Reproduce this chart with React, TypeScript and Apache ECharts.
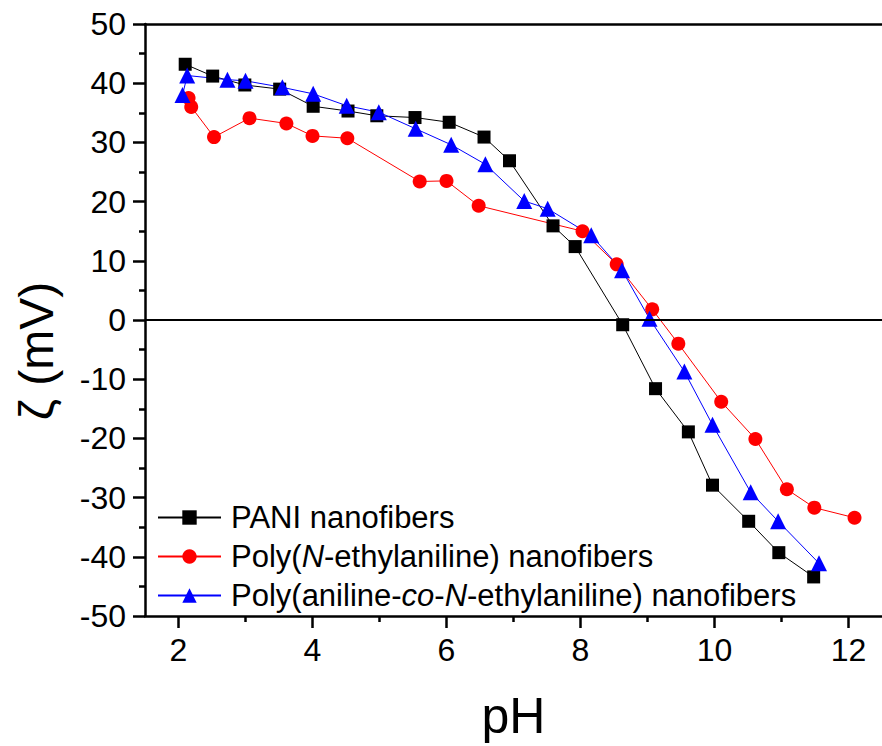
import React, { useEffect, useRef } from "react";
import * as echarts from "echarts";

const FONT = "'Liberation Sans', Arial, Helvetica, sans-serif";

// Series: PANI nanofibers
const phPani = [2.10, 2.51, 2.99, 3.51, 4.01, 4.53, 4.96, 5.53, 6.04, 6.56, 6.94, 7.59, 7.92, 8.63, 9.12, 9.61, 9.97, 10.51, 10.96, 11.48];
const zetaPani = [43.2, 41.2, 39.7, 39.0, 36.1, 35.3, 34.5, 34.2, 33.4, 30.9, 26.9, 15.9, 12.4, -0.8, -11.6, -18.9, -27.9, -34.0, -39.3, -43.4];

// Series: Poly(N-ethylaniline) nanofibers
const phPnea = [2.15, 2.19, 2.53, 3.06, 3.61, 4.0, 4.52, 5.60, 6.0, 6.48, 8.03, 8.54, 9.07, 9.46, 10.10, 10.61, 11.08, 11.49, 12.09];
const zetaPnea = [37.5, 36.0, 30.9, 34.1, 33.2, 31.1, 30.7, 23.4, 23.5, 19.3, 15.0, 9.4, 1.8, -4.0, -13.8, -20.1, -28.6, -31.7, -33.4];

// Series: Poly(aniline-co-N-ethylaniline) nanofibers
const phCo = [2.06, 2.13, 2.73, 3.0, 3.55, 4.01, 4.51, 4.99, 5.54, 6.07, 6.58, 7.16, 7.51, 8.16, 8.62, 9.03, 9.55, 9.97, 10.54, 10.95, 11.56];
const zetaCo = [38.0, 41.3, 40.6, 40.4, 39.3, 38.2, 36.2, 35.1, 32.3, 29.6, 26.3, 20.1, 18.8, 14.3, 8.4, 0.2, -8.7, -17.7, -29.1, -34.0, -41.1];

const seriesNames = [
  "PANI nanofibers",
  "Poly(N-ethylaniline) nanofibers",
  "Poly(aniline-co-N-ethylaniline) nanofibers",
];
const legendRich: Record<string, string> = {
  "PANI nanofibers": "PANI nanofibers",
  "Poly(N-ethylaniline) nanofibers": "Poly({it|N}-ethylaniline) nanofibers",
  "Poly(aniline-co-N-ethylaniline) nanofibers": "Poly(aniline-{it|co}-{it|N}-ethylaniline) nanofibers",
};

const xMajorTicks = [2, 4, 6, 8, 10, 12];
const xMinorTicks = [3, 5, 7, 9, 11];

const zip = (xs: number[], ys: number[]) => xs.map((x, i) => [x, ys[i]]);

export default function App() {
  const ref = useRef<HTMLDivElement>(null);
  useEffect(() => {
    document.body.style.margin = "0";
    const chart = echarts.init(ref.current!, null, { renderer: "svg" });
    const axisLineStyle = { color: "#000", width: 2.5 };
    chart.setOption({
      animation: false,
      backgroundColor: "#fff",
      grid: { left: 145, top: 24, width: 737, height: 595.5 },
      xAxis: [
        {
          type: "value",
          min: 1.5,
          max: 12.5,
          position: "bottom",
          name: "pH",
          nameLocation: "middle",
          nameGap: 75,
          nameTextStyle: { fontFamily: FONT, fontSize: 50, color: "#000" },
          axisLine: { show: true, onZero: false, lineStyle: axisLineStyle },
          axisTick: { show: true, length: 12, customValues: xMajorTicks, lineStyle: axisLineStyle },
          axisLabel: { customValues: xMajorTicks, fontFamily: FONT, fontSize: 32, color: "#000", margin: 18 },
          splitLine: { show: false },
        },
        {
          type: "value",
          min: 1.5,
          max: 12.5,
          position: "bottom",
          axisLine: { show: false, onZero: false },
          axisTick: { show: true, length: 6, customValues: xMinorTicks, lineStyle: axisLineStyle },
          axisLabel: { show: false },
          splitLine: { show: false },
        },
        {
          type: "value",
          min: 1.5,
          max: 12.5,
          position: "top",
          axisLine: { show: true, onZero: false, lineStyle: axisLineStyle },
          axisTick: { show: false },
          axisLabel: { show: false },
          splitLine: { show: false },
        },
      ],
      yAxis: {
        type: "value",
        min: -50,
        max: 50,
        interval: 10,
        axisLine: { show: true, onZero: false, lineStyle: axisLineStyle },
        axisTick: { show: true, length: 12, lineStyle: axisLineStyle },
        minorTick: { show: true, splitNumber: 2, length: 6, lineStyle: axisLineStyle },
        axisLabel: { fontFamily: FONT, fontSize: 32, color: "#000", margin: 19 },
        splitLine: { show: false },
        minorSplitLine: { show: false },
      },
      legend: {
        orient: "vertical",
        left: 152,
        top: 497,
        itemWidth: 63,
        itemHeight: 18,
        itemGap: 8,
        data: seriesNames,
        formatter: (name: string) => legendRich[name] || name,
        textStyle: {
          fontFamily: FONT,
          fontSize: 31,
          lineHeight: 31,
          color: "#000",
          padding: [0, 0, 0, 5],
          rich: {
            it: { fontFamily: FONT, fontSize: 31, lineHeight: 31, fontStyle: "italic", color: "#000" },
          },
        },
      },
      graphic: [
        {
          type: "text",
          x: 36,
          y: 351,
          rotation: Math.PI / 2,
          style: {
            text: "ζ (mV)",
            fontFamily: FONT,
            fontSize: 48,
            fill: "#000",
            align: "center",
            verticalAlign: "middle",
            textAlign: "center",
            textVerticalAlign: "middle",
          },
        },
      ],
      series: [
        {
          name: seriesNames[0],
          type: "line",
          data: zip(phPani, zetaPani),
          symbol: "rect",
          symbolSize: 13,
          color: "#000000",
          lineStyle: { color: "#000000", width: 1 },
          itemStyle: { color: "#000000" },
          markLine: {
            silent: true,
            symbol: ["none", "none"],
            label: { show: false },
            lineStyle: { color: "#000", width: 2, type: "solid" },
            data: [{ yAxis: 0 }],
          },
        },
        {
          name: seriesNames[1],
          type: "line",
          data: zip(phPnea, zetaPnea),
          symbol: "circle",
          symbolSize: 14,
          color: "#ff0000",
          lineStyle: { color: "#ff0000", width: 1 },
          itemStyle: { color: "#ff0000" },
        },
        {
          name: seriesNames[2],
          type: "line",
          data: zip(phCo, zetaCo),
          symbol: "triangle",
          symbolSize: 16,
          color: "#0000ff",
          lineStyle: { color: "#0000ff", width: 1 },
          itemStyle: { color: "#0000ff" },
        },
      ],
    });
    return () => chart.dispose();
  }, []);
  return <div ref={ref} style={{ width: 882, height: 746 }} />;
}
